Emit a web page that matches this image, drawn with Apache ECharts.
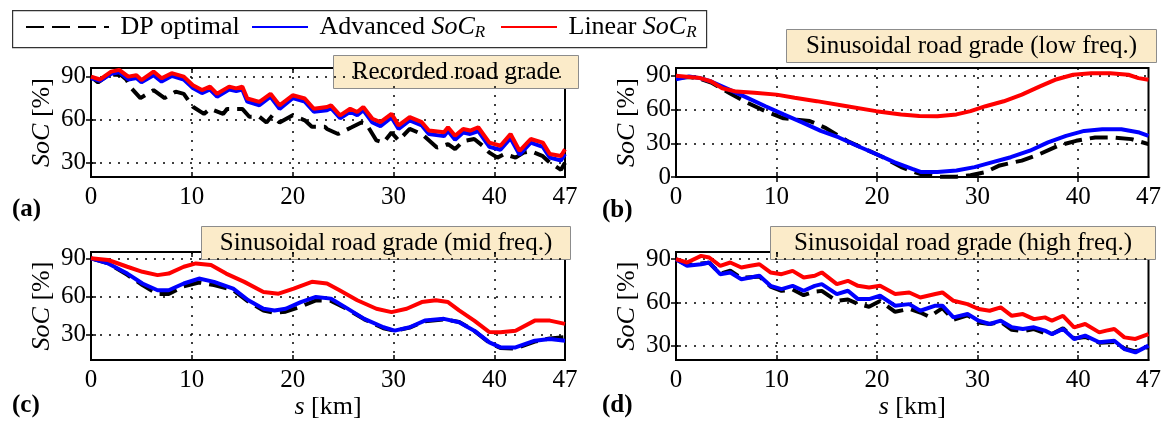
<!DOCTYPE html>
<html>
<head>
<meta charset="utf-8">
<script src="https://cdn.jsdelivr.net/npm/echarts@6/dist/echarts.min.js"></script>
<style>
html,body{margin:0;padding:0;background:#fff;}
#chart{width:1164px;height:423px;}
</style>
</head>
<body>
<div id="chart"></div>
<script>
// ---------------- DATA ----------------
const seriesNames = ['DP optimal', 'Advanced SoC_R', 'Linear SoC_R'];
const panelTitles = ['Recorded road grade', 'Sinusoidal road grade (low freq.)', 'Sinusoidal road grade (mid freq.)', 'Sinusoidal road grade (high freq.)'];
const panelLetters = ['(a)', '(b)', '(c)', '(d)'];
const xTickLabels = [0, 10, 20, 30, 40, 47];
const yTicksA = [30, 60, 90];
const yTicksB = [0, 30, 60, 90];
const yTicksC = [30, 60, 90];
const yTicksD = [30, 60, 90];

// (a) recorded road grade  [s km, SoC %]
const recordedDP = [[0,90],[0.7,86],[1.5,90],[2.3,91.5],[3,91],[3.5,88],[4,82],[4.9,75],[6.2,80.5],[7.3,75],[8.4,79.5],[9.2,78],[10.1,69],[11.2,64],[11.8,67.5],[13.1,64],[13.5,67.5],[14.2,67.5],[15,67.5],[15.7,62],[16.7,62],[17.4,58],[18,63],[18.7,58],[20,63],[21.2,59.5],[21.9,55],[23.2,55],[23.4,53.5],[24.5,50],[25.8,54.5],[26.8,58],[27.3,57],[28.3,45.5],[29,44],[29.8,51],[30.5,45.5],[31.6,53.5],[32.8,50],[34.3,40.5],[35,42],[35.4,43],[36.1,39.5],[36.9,45],[38,46.5],[38.8,42],[39.5,37],[40.3,33.5],[41,36],[42.1,33.5],[42.9,37],[43.6,38],[44.8,34.5],[45.5,30],[46.6,25],[47,30]];
const recordedAdv = [[0,89],[0.9,87],[2,92],[2.8,93],[3.7,88],[4.5,89],[5,86],[6.2,91],[7,86.5],[8,90.5],[9.2,88],[10.1,82],[11,78.5],[11.8,81],[12.5,76],[13.7,81],[14.4,80],[15,81],[15.5,72.5],[16.7,70],[17.8,76],[18.7,67.5],[20,75],[21.2,72.5],[22.1,65.5],[23.4,66.5],[23.8,68],[24.7,61],[25.7,65.5],[26.4,63],[27,66.5],[27.9,58],[28.7,55.5],[29.8,61.5],[30.5,53.5],[31.6,59.5],[32.8,56],[33.5,50],[35,48.5],[35.4,52],[36.1,46],[36.9,51],[37.6,50],[38.4,52],[39.5,41],[40.6,39],[41.6,47],[42.5,35.5],[43.6,44],[44.8,41],[45.5,33.5],[46.6,31.5],[47,36]];
const recordedLin = [[0,90],[0.9,88],[2,93.5],[2.8,94.7],[3.7,90],[4.5,91],[5,87.6],[6.2,93.5],[7,88.8],[8,92.4],[9.2,90],[10.1,84],[11,80.6],[11.8,83],[12.5,78],[13.7,83],[14.4,81.8],[15,83],[15.5,74.7],[16.7,72.4],[17.8,78],[18.7,70],[20,77],[21.2,74.7],[22.1,67.6],[23.4,68.8],[23.8,70],[24.7,63],[25.7,67.6],[26.4,65.3],[27,68.8],[27.9,60.6],[28.7,58.2],[29.8,64],[30.5,56],[31.6,61.8],[32.8,58.2],[33.5,52.4],[35,51.2],[35.4,54.7],[36.1,48.8],[36.9,53.5],[37.6,52.4],[38.4,54.7],[39.5,44],[40.6,41.8],[41.6,50],[42.5,38.2],[43.6,46.5],[44.8,44],[45.5,36],[46.6,34.7],[47,39.4]];

// (b) sinusoidal, low frequency
const lowDP = [[0,88],[1.3,89],[2.4,87.5],[3.5,84],[5.3,74.8],[7.1,66],[8.9,58.6],[10.7,52.2],[13.3,49.8],[14.8,44],[17,32.2],[18.8,24.9],[20.6,17.6],[22.4,8.8],[24.2,2.9],[26,0.3],[27.9,0.3],[29.3,1.5],[30.8,4.4],[32.2,10.3],[34.4,14.6],[36.2,20.5],[38,27.8],[39.8,32.2],[41.7,35.2],[43.5,35.2],[45.3,33.7],[47,29.3]];
const lowAdv = [[0,87],[1.3,89.5],[2.4,88],[3.5,85],[5.3,77.7],[7.1,70.4],[8.9,63],[10.7,55.7],[12.6,48.4],[14.4,41],[16.2,35.2],[18,27.8],[19.9,20.5],[21.7,13.2],[23.5,7.3],[24.4,4.4],[26,4.4],[27.9,5.8],[29.7,8.8],[31.5,13.2],[33.3,17.6],[35.2,23.4],[37,30.8],[38.8,36.6],[40.6,41],[42.4,42.5],[44.3,42.5],[46.1,39.6],[47,36.6]];
const lowLin = [[0,90],[1.3,89],[2.4,88],[3.5,85],[4.6,79],[6,76],[7.8,75],[10,73.3],[11.8,70.5],[14,67.5],[17,63],[19.9,58.6],[22.4,55.7],[24.2,54.2],[26,54],[27.9,55.7],[29.3,58.6],[30.8,63],[32.6,67.4],[34.4,73.3],[36.2,80.6],[37.7,86.5],[39.5,91],[41.3,92.3],[43.2,92.3],[45,91],[46,88],[47,86.5]];

// (c) sinusoidal, mid frequency
const midDP = [[0,90],[1.7,86],[3.6,77],[5.1,69],[6.6,62],[7.7,62],[9.2,68],[10.7,71],[12.2,69],[14.1,65],[15.6,56],[17.1,49],[18.2,47],[19.3,48],[20.8,52],[22.3,57],[23.8,56.5],[25.2,51],[27.1,42],[29,35],[30.1,33],[31.6,35.5],[33.1,40.5],[35,42],[36.5,40],[38,33],[39.5,23.5],[40.6,19.5],[42.1,19],[44,24.5],[45.5,27],[47,28]];
const midAdv = [[0,90],[1.7,86],[3.6,78],[5.1,70.2],[6.6,64.9],[7.7,64.9],[9.2,70.2],[10.7,74.1],[12.2,71.5],[14.1,66.2],[15.6,57],[17.1,50.3],[18.2,49],[19.3,50.3],[20.8,55.6],[22.3,59.6],[23.8,58.3],[25.2,51.6],[27.1,42.4],[29,35.8],[30.1,33.1],[31.6,35.8],[33.1,41],[35,42.4],[36.5,39.7],[38,33.1],[39.5,23.9],[40.6,19.9],[42.1,19.9],[44,25.2],[45.5,26.5],[47,25.2]];
const midLin = [[0,90],[1.7,88.7],[3.6,83.4],[5.1,79.4],[6.6,76.8],[7.7,78],[9.2,83.4],[10.4,86],[11.9,84.7],[13.4,78],[15.2,71.5],[17.1,63.5],[18.6,62.2],[20.1,66.2],[21.9,71.5],[23.4,70.2],[24.6,65],[26.4,57],[28.3,50.3],[29.8,47.7],[31.3,50.3],[32.8,55.6],[34.2,57],[35.4,55.6],[36.5,49],[38,41],[39.5,32],[40.6,31.8],[42.1,33],[44,41],[45.5,41],[47,38.4]];

// (d) sinusoidal, high frequency
const highDP = [[0,90],[1.1,86],[2.5,87],[3.3,87.5],[4.4,80],[5.4,82],[6.5,77],[7.4,77.5],[8.3,78],[9.4,71],[10.5,68],[11.6,69],[12.7,65],[13.8,67.5],[14.5,68],[16,61],[17.1,62],[18.1,59],[19.2,57],[20.3,61],[21.8,53.5],[23.2,55.5],[24.3,53],[25.2,50],[26.5,56],[27.6,48],[29,51],[30.1,46],[31.2,45],[32.3,46.5],[33.4,41],[34.5,40],[35.6,41.5],[36.7,38.5],[37.4,38],[38.5,42],[39.6,35],[40.7,36],[42.1,32],[43.6,32.5],[44.6,28],[45.7,26],[47,29]];
const highAdv = [[0,90],[1.1,85.4],[2.5,86.5],[3.3,87.7],[4.4,79.6],[5.4,80.8],[6.5,76.1],[7.4,77.3],[8.3,78.5],[9.4,71.5],[10.5,69.2],[11.6,71.5],[12.7,68.1],[13.8,71.5],[14.5,72.7],[16,65.8],[17.1,68.1],[18.1,62.3],[19.2,62.3],[20.3,64.6],[21.8,57.7],[23.2,58.8],[24.3,54.2],[25.8,57.7],[26.5,57.7],[27.6,49.6],[29,51.9],[30.1,47.3],[31.2,45],[32.3,47.3],[33.4,42.7],[34.5,41.5],[35.6,42.7],[36.7,40.4],[37.4,38],[38.5,41.5],[39.6,34.6],[40.7,36.9],[42.1,32.3],[43.6,33.4],[44.6,27.6],[45.7,25.3],[47,30]];
const highLin = [[0,90],[1.1,87.7],[2.5,92.3],[3.3,91.2],[4.4,85.4],[5.4,87.7],[6.5,84.2],[7.4,85.4],[8.3,86.5],[9.4,80.8],[10.5,79.6],[11.6,81.9],[12.7,77.3],[13.8,78.5],[14.5,80.8],[16,72.7],[17.1,75],[18.1,71.5],[19.2,70.4],[20.3,71.5],[21.8,65.8],[23.2,66.9],[24.3,63.4],[25.8,65.8],[26.5,66.9],[27.6,61.1],[29,58.8],[30.1,55.4],[31.2,54.2],[32.3,56.5],[33.4,50.7],[34.5,51.9],[35.6,48.4],[36.7,49.6],[37.4,47.3],[38.5,50.7],[39.6,42.7],[40.7,45],[42.1,39.2],[42.8,40.4],[43.6,41.5],[44.6,35.7],[45.7,34.6],[47,38]];

// ---------------- LAYOUT / STYLE ----------------
const FONT = 'Liberation Serif';
const panelData = [
  [recordedDP, recordedAdv, recordedLin],
  [lowDP, lowAdv, lowLin],
  [midDP, midAdv, midLin],
  [highDP, highAdv, highLin]
];
const yRanges = [[20, 96], [0, 97], [10, 95], [20, 95]];
const yTicks = [yTicksA, yTicksB, yTicksC, yTicksD];
const grids = [
  {left: 91, top: 68, width: 474, height: 109},
  {left: 676, top: 68, width: 474, height: 109},
  {left: 91, top: 252, width: 474, height: 108},
  {left: 676, top: 252, width: 474, height: 108}
];
const colors = ['#000000', '#0000ff', '#ff0000'];
const titleBoxes = [
  {x: 333, y: 55, w: 245, h: 33},
  {x: 786, y: 29, w: 370, h: 33},
  {x: 201, y: 226, w: 369, h: 33},
  {x: 770, y: 226, w: 385, h: 33}
];
const letterPos = [[12, 210], [602, 211], [12, 406], [602, 406]];

const dotted = {color: '#000', type: [2, 7], width: 1.5};
const richTxt = {
  i: {fontStyle: 'italic', fontFamily: FONT, fontSize: 26, color: '#000'},
  n: {fontStyle: 'normal', fontFamily: FONT, fontSize: 26, color: '#000'},
  s: {fontStyle: 'italic', fontFamily: FONT, fontSize: 17, color: '#000', padding: [12, 0, 0, 0]}
};
const labelRich = {
  n: {fontFamily: FONT, fontSize: 25, color: '#000'}
};
const tickFmt = v => '{n|' + v + '}';
const tickStyle = {color: '#000', width: 1.5};

const xAxes = [], yAxes = [], series = [], graphic = [];
for (let p = 0; p < 4; p++) {
  xAxes.push({
    type: 'value', gridIndex: p, min: 0, max: 47, interval: 10,
    axisLine: {show: true, onZero: false, lineStyle: {color: '#000', width: 2}},
    axisTick: {show: true, inside: true, length: 5, lineStyle: tickStyle, customValues: [10, 20, 30, 40]},
    axisLabel: {customValues: xTickLabels, color: '#000', fontSize: 25, fontFamily: FONT, margin: 8,
                formatter: tickFmt, rich: labelRich},
    splitLine: {show: true, lineStyle: dotted},
    name: p >= 2 ? '{i|s}{n| [km]}' : '',
    nameLocation: 'middle', nameGap: 32,
    nameTextStyle: {fontSize: 26, fontFamily: FONT, color: '#000', rich: richTxt}
  });
  yAxes.push({
    type: 'value', gridIndex: p, min: yRanges[p][0], max: yRanges[p][1],
    axisLine: {show: true, onZero: false, lineStyle: {color: '#000', width: 2}},
    axisTick: {show: true, inside: true, length: 5, lineStyle: tickStyle, customValues: yTicks[p]},
    axisLabel: {customValues: yTicks[p], color: '#000', fontSize: 25, fontFamily: FONT, margin: 5,
                formatter: tickFmt, rich: labelRich},
    splitLine: {show: true, lineStyle: dotted},
    name: '{i|SoC}{n| [%]}',
    nameLocation: 'middle', nameGap: 36, nameRotate: 90,
    nameTextStyle: {fontSize: 26, fontFamily: FONT, color: '#000', rich: richTxt}
  });
  for (let k = 0; k < 3; k++) {
    series.push({
      name: seriesNames[k], type: 'line', xAxisIndex: p, yAxisIndex: p,
      data: panelData[p][k], symbol: 'none', showSymbol: false,
      z: 2 + k,
      lineStyle: {color: colors[k], width: 4, type: k === 0 ? [18, 8] : 'solid'},
      itemStyle: {color: colors[k]}
    });
  }
  const b = titleBoxes[p];
  graphic.push({
    type: 'group', left: b.x, top: b.y, z: 100,
    children: [
      {type: 'rect', shape: {x: 0, y: 0, width: b.w, height: b.h},
       style: {fill: '#fbebc9', stroke: '#8c8c8c', lineWidth: 1}},
      {type: 'text', x: b.w / 2, y: b.h / 2,
       style: {text: panelTitles[p], font: '25px ' + FONT, fill: '#000', align: 'center', verticalAlign: 'middle'}}
    ]
  });
  graphic.push({
    type: 'text', left: letterPos[p][0], top: letterPos[p][1] - 13, z: 100,
    style: {text: panelLetters[p], font: 'bold 25px ' + FONT, fill: '#000'}
  });
}
// mirrored tick marks on the top and right edges (box style)
for (let p = 0; p < 4; p++) {
  xAxes.push({
    type: 'value', gridIndex: p, position: 'top', min: 0, max: 47, interval: 10,
    axisLine: {show: false}, splitLine: {show: false}, axisLabel: {show: false},
    axisTick: {show: true, inside: true, length: 5, lineStyle: tickStyle, customValues: [10, 20, 30, 40]}
  });
  yAxes.push({
    type: 'value', gridIndex: p, position: 'right', min: yRanges[p][0], max: yRanges[p][1],
    axisLine: {show: false}, splitLine: {show: false}, axisLabel: {show: false},
    axisTick: {show: true, inside: true, length: 5, lineStyle: tickStyle, customValues: yTicks[p]}
  });
}
// legend frame
graphic.push({
  type: 'rect', left: 12, top: 10, z: 0,
  shape: {x: 0, y: 0, width: 694, height: 37},
  style: {fill: '#fff', stroke: '#333', lineWidth: 1.2}
});

const legendFmt = function (name) {
  if (name === 'DP optimal') return '{n| DP optimal}';
  if (name === 'Advanced SoC_R') return '{n| Advanced }{i|SoC}{s|R}';
  return '{n| Linear }{i|SoC}{s|R}';
};
const legendBase = {
  orient: 'horizontal', padding: 0, top: 14, itemHeight: 14, selectedMode: false, z: 10,
  formatter: legendFmt,
  itemStyle: {opacity: 0},
  textStyle: {fontSize: 26, fontFamily: FONT, color: '#000', rich: richTxt}
};
const legends = [
  Object.assign({}, legendBase, {data: ['DP optimal'], left: 25, itemWidth: 83}),
  Object.assign({}, legendBase, {data: ['Advanced SoC_R'], left: 251, itemWidth: 56}),
  Object.assign({}, legendBase, {data: ['Linear SoC_R'], left: 500, itemWidth: 56})
];

const chart = echarts.init(document.getElementById('chart'), null, {renderer: 'canvas'});
chart.setOption({
  animation: false,
  backgroundColor: '#ffffff',
  textStyle: {fontFamily: FONT, color: '#000'},
  legend: legends,
  grid: grids.map(g => Object.assign({show: true, borderColor: '#000', borderWidth: 2, backgroundColor: 'transparent'}, g)),
  xAxis: xAxes,
  yAxis: yAxes,
  series: series,
  graphic: graphic
});
</script>
</body>
</html>
